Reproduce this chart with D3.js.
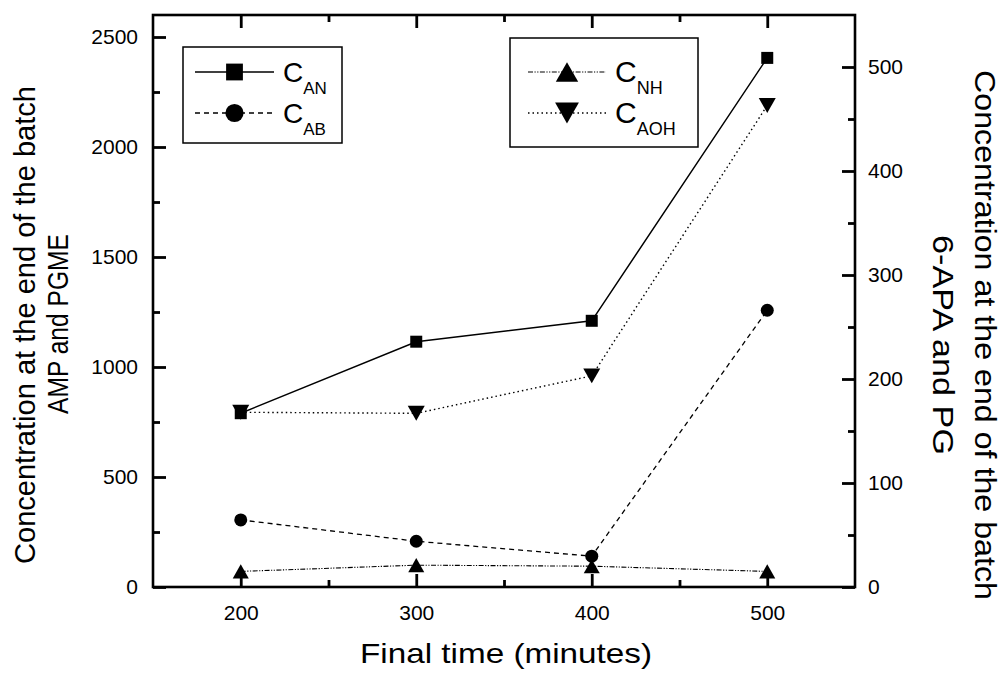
<!DOCTYPE html>
<html>
<head>
<meta charset="utf-8">
<script src="https://cdn.jsdelivr.net/npm/d3@7"></script>
<style>
  body { margin: 0; background: #fff; }
  svg { display: block; font-family: "Liberation Sans", Arial, sans-serif; }
</style>
</head>
<body>
<div id="chart"></div>
<script>
// final time of the batch (minutes)
const times = [200, 300, 400, 500]
// left axis (AMP and PGME)
const cAN = [790, 1115, 1210, 2405]
const cAB = [305, 208, 140, 1258]
// right axis (6-APA and PG)
const cNH = [15, 21, 20, 15]
const cAOH = [168, 167, 203, 463]

const xMajor = [200, 300, 400, 500]
const xMinor = [250, 350, 450]
const yLMajor = [0, 500, 1000, 1500, 2000, 2500]
const yLMinor = [250, 750, 1250, 1750, 2250]
const yRMajor = [0, 100, 200, 300, 400, 500]
const yRMinor = [50, 150, 250, 350, 450]

const W = 1000, H = 673
const L = 153, R = 855, T = 15, B = 587

const x = d3.scaleLinear([150, 550], [L, R])
const yL = d3.scaleLinear([0, 2600], [B, T])
const yR = d3.scaleLinear([0, 550], [B, T])

const svg = d3.select("#chart").append("svg")
	.attr("width", W).attr("height", H)

// marker shapes, centred on their box like the original plot
const square = s => `M${-s/2},${-s/2}h${s}v${s}h${-s}Z`
const circle = s => `M${-s/2},0a${s/2},${s/2} 0 1,0 ${s},0a${s/2},${s/2} 0 1,0 ${-s},0Z`
const triUp = s => `M0,${-s*0.44}L${s/2},${s*0.44}L${-s/2},${s*0.44}Z`
const triDown = s => `M0,${s*0.44}L${s/2},${-s*0.44}L${-s/2},${-s*0.44}Z`

const series = [
	{ name: "AN", values: cAN, y: yL, dash: null, width: 1.5, shape: square, size: 12 },
	{ name: "AB", values: cAB, y: yL, dash: "5,4", width: 1.3, shape: circle, size: 13 },
	{ name: "NH", values: cNH, y: yR, dash: "5,1.5,1.2,1.5,1.2,1.5", width: 1.1, shape: triUp, size: 16 },
	{ name: "AOH", values: cAOH, y: yR, dash: "1.5,3", width: 1.4, shape: triDown, size: 17 }
]

// axes: d3 draws labels and inward ticks
const axisStyle = g => {
	g.select(".domain").remove()
	g.selectAll(".tick line").attr("stroke", "#000").attr("stroke-width", 2.8)
	g.selectAll("text").attr("fill", "#000").attr("font-size", 21)
		.attr("font-family", "Liberation Sans, Arial, sans-serif")
}
const axes = [
	[d3.axisBottom(x).tickValues(xMajor).tickSize(-13).tickPadding(18).tickFormat(d3.format("d")), `translate(0,${B})`],
	[d3.axisBottom(x).tickValues(xMinor).tickSize(-7).tickFormat(() => ""), `translate(0,${B})`],
	[d3.axisTop(x).tickValues(xMajor).tickSize(-13).tickFormat(() => ""), `translate(0,${T})`],
	[d3.axisTop(x).tickValues(xMinor).tickSize(-7).tickFormat(() => ""), `translate(0,${T})`],
	[d3.axisLeft(yL).tickValues(yLMajor).tickSize(-13).tickPadding(15).tickFormat(d3.format("d")), `translate(${L},0)`],
	[d3.axisLeft(yL).tickValues(yLMinor).tickSize(-7).tickFormat(() => ""), `translate(${L},0)`],
	[d3.axisRight(yR).tickValues(yRMajor).tickSize(-13).tickPadding(13).tickFormat(d3.format("d")), `translate(${R},0)`],
	[d3.axisRight(yR).tickValues(yRMinor).tickSize(-7).tickFormat(() => ""), `translate(${R},0)`]
]
axes.forEach(([ax, tr]) => {
	svg.append("g").attr("transform", tr).call(ax).call(axisStyle)
})

// frame
svg.append("rect")
	.attr("x", L).attr("y", T).attr("width", R - L).attr("height", B - T)
	.attr("fill", "none").attr("stroke", "#000").attr("stroke-width", 2.6)

// lines and markers
series.forEach(s => {
	const pts = times.map((t, i) => [t, s.values[i]])
	const path = d3.line().x(d => x(d[0])).y(d => s.y(d[1]))
	svg.append("path")
		.attr("d", path(pts))
		.attr("fill", "none")
		.attr("stroke", "#000")
		.attr("stroke-width", s.width)
		.attr("stroke-dasharray", s.dash)
	svg.append("g").selectAll("path")
		.data(pts)
		.join("path")
		.attr("transform", d => `translate(${x(d[0])},${s.y(d[1])})`)
		.attr("d", s.shape(s.size))
		.attr("fill", "#000")
})

// legends
const legends = [
	{ box: [183, 47, 159, 96], items: [series[0], series[1]], rows: [72, 113], line: [195, 274], fs: 28, sub: 17 },
	{ box: [510, 38, 188, 109], items: [series[2], series[3]], rows: [72, 113], line: [528, 606], fs: 30, sub: 18 }
]
legends.forEach(lg => {
	const g = svg.append("g")
	g.append("rect")
		.attr("x", lg.box[0]).attr("y", lg.box[1])
		.attr("width", lg.box[2]).attr("height", lg.box[3])
		.attr("fill", "#fff").attr("stroke", "#000").attr("stroke-width", 1.5)
	lg.items.forEach((s, i) => {
		const y = lg.rows[i]
		const mx = (lg.line[0] + lg.line[1]) / 2
		g.append("line")
			.attr("x1", lg.line[0]).attr("x2", lg.line[1])
			.attr("y1", y).attr("y2", y)
			.attr("stroke", "#000").attr("stroke-width", s.width)
			.attr("stroke-dasharray", s.dash)
		g.append("path")
			.attr("transform", `translate(${mx},${y})`)
			.attr("d", s.shape(s.size * 1.4))
			.attr("fill", "#000")
		const t = g.append("text")
			.attr("x", lg.line[1] + 9).attr("y", y + 10)
			.attr("font-size", lg.fs)
		t.append("tspan").text("C")
		t.append("tspan").attr("font-size", lg.sub).attr("dy", 12).text(s.name)
	})
})

// axis titles
svg.append("text")
	.attr("x", (L + R) / 2 + 2).attr("y", 663)
	.attr("text-anchor", "middle")
	.attr("font-size", 28)
	.attr("textLength", 292).attr("lengthAdjust", "spacingAndGlyphs")
	.text("Final time (minutes)")

const leftTitle = [
	{ text: "Concentration at the end of the batch", x: 35, y: 325, len: 478 },
	{ text: "AMP and PGME", x: 68, y: 324, len: 180 }
]
leftTitle.forEach(d => {
	svg.append("text")
		.attr("transform", `translate(${d.x},${d.y}) rotate(-90)`)
		.attr("text-anchor", "middle")
		.attr("font-size", 29)
		.attr("textLength", d.len).attr("lengthAdjust", "spacingAndGlyphs")
		.text(d.text)
})

const rightTitle = [
	{ text: "Concentration at the end of the batch", x: 975, y: 335, len: 530 },
	{ text: "6-APA and PG", x: 933, y: 345, len: 220 }
]
rightTitle.forEach(d => {
	svg.append("text")
		.attr("transform", `translate(${d.x},${d.y}) rotate(90)`)
		.attr("text-anchor", "middle")
		.attr("font-size", 29)
		.attr("textLength", d.len).attr("lengthAdjust", "spacingAndGlyphs")
		.text(d.text)
})
</script>
</body>
</html>
